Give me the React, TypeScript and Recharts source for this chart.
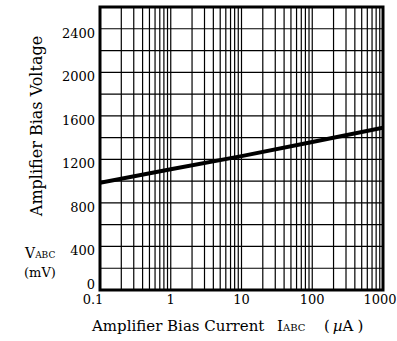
import { ComposedChart, Line, XAxis, YAxis, CartesianGrid, ReferenceArea, Label } from 'recharts'

// Bias current (µA) vs bias voltage (mV)
const currentUA = [0.1, 1, 10, 100, 1000]
const voltageMV = [985, 1110, 1230, 1360, 1490]

const xTicks = [0.1, 1, 10, 100, 1000]
const yTicks = [0, 400, 800, 1200, 1600, 2000, 2400]
const yGrid = [200, 400, 600, 800, 1000, 1200, 1400, 1600, 1800, 2000, 2200, 2400]
// log minor gridlines, 2..9 of each decade
const xGrid = [
  0.2, 0.3, 0.4, 0.5, 0.6, 0.7, 0.8, 0.9, 1,
  2, 3, 4, 5, 6, 7, 8, 9, 10,
  20, 30, 40, 50, 60, 70, 80, 90, 100,
  200, 300, 400, 500, 600, 700, 800, 900,
]

const data = currentUA.map((c, i) => ({ c, v: voltageMV[i] }))

const FONT = '"DejaVu Serif", serif'
const textStyle = { fontFamily: FONT, fontWeight: 400 }

function XTick({ x, y, payload }: any) {
  const dx = payload.value === 0.1 ? -7 : payload.value === 1000 ? -3 : 0
  return (
    <text x={x + dx} y={y + 8} textAnchor="middle" fontSize={13} fill="#000" style={textStyle}>
      {String(payload.value)}
    </text>
  )
}

function YTick({ x, y, payload }: any) {
  const dy = payload.value === 0 ? -1 : 9
  return (
    <text x={x} y={y + dy} textAnchor="end" fontSize={13} fill="#000" style={textStyle}>
      {payload.value}
    </text>
  )
}

function SideLabels() {
  return (
    <g fill="#000" style={textStyle}>
      <text x={42} y={126} fontSize={16} textAnchor="middle" transform="rotate(-90 42 126)">
        Amplifier Bias Voltage
      </text>
      <text x={25} y={258} fontSize={14}>
        V<tspan fontSize={9}>ABC</tspan>
      </text>
      <text x={24} y={277} fontSize={13}>(mV)</text>
      <text x={92} y={331} fontSize={15}>
        Amplifier Bias Current
        <tspan x={277}>I</tspan>
        <tspan fontSize={10}>ABC</tspan>
        <tspan x={324}>(</tspan>
        <tspan dx={3} fontStyle="italic">µ</tspan>
        <tspan>A</tspan>
        <tspan dx={4}>)</tspan>
      </text>
    </g>
  )
}

export default function App() {
  return (
    <div style={{ position: 'absolute', left: 0, top: 0, width: 397, height: 341, background: '#fff' }}>
      <ComposedChart width={397} height={341} data={data} margin={{ top: 7, right: 14, bottom: 0, left: 0 }}>
        <CartesianGrid
          stroke="#000"
          strokeWidth={1.2}
          horizontalValues={yGrid}
          verticalValues={xGrid}
        />
        <XAxis
          dataKey="c"
          type="number"
          scale="log"
          domain={[0.1, 1000]}
          ticks={xTicks}
          allowDataOverflow
          height={51}
          axisLine={false}
          tickLine={false}
          tickSize={6}
          tickMargin={0}
          tick={<XTick />}
          interval={0}
        />
        <YAxis
          type="number"
          domain={[0, 2600]}
          ticks={yTicks}
          width={100}
          axisLine={false}
          tickLine={false}
          tickSize={5}
          tickMargin={0}
          tick={<YTick />}
          interval={0}
        >
          <Label content={() => <SideLabels />} />
        </YAxis>
        <ReferenceArea x1={0.1} x2={1000} y1={0} y2={2600} fill="none" stroke="#000" strokeWidth={3} ifOverflow="visible" />
        <Line
          dataKey="v"
          type="linear"
          stroke="#000"
          strokeWidth={4}
          dot={false}
          isAnimationActive={false}
        />
      </ComposedChart>
    </div>
  )
}
